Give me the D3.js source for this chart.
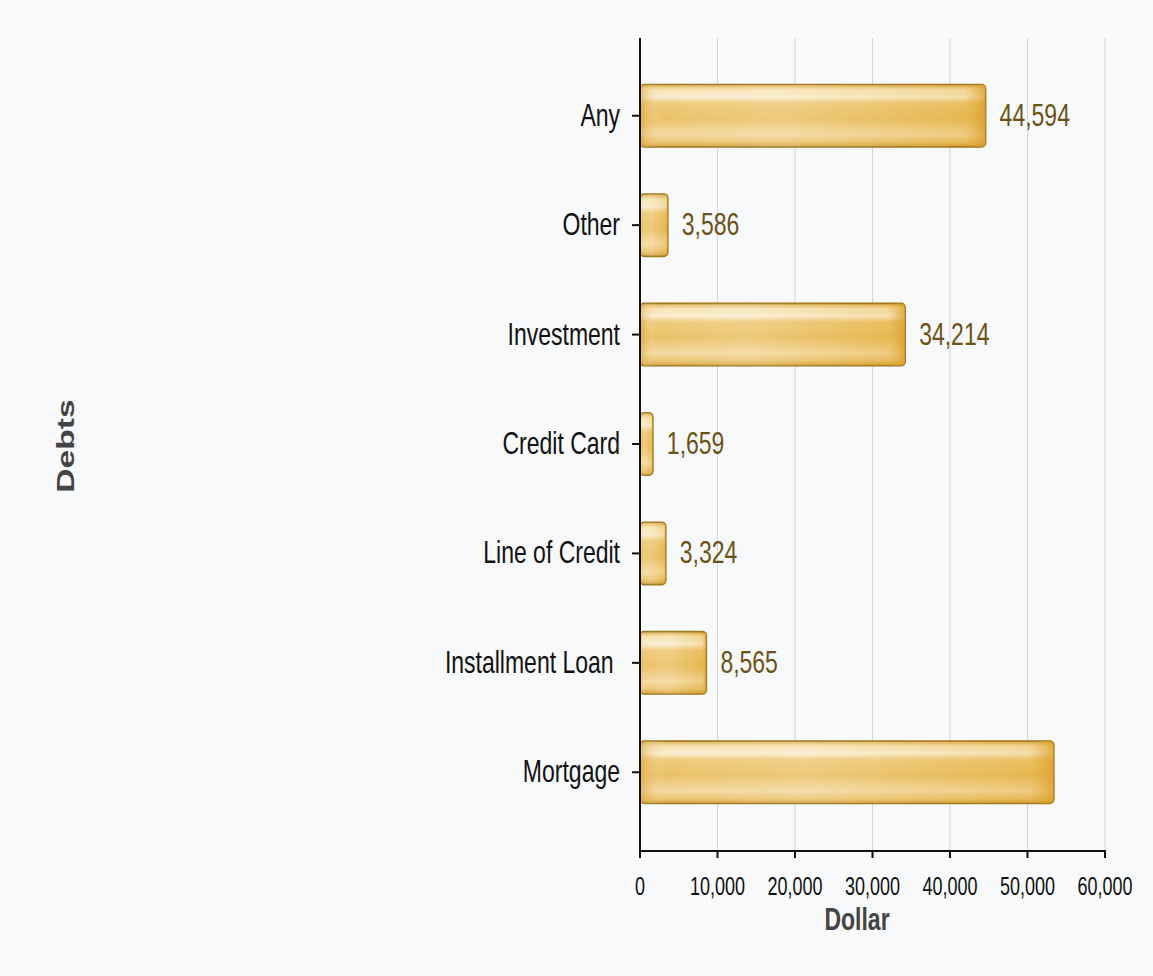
<!DOCTYPE html>
<html>
<head>
<meta charset="utf-8">
<script src="https://cdn.jsdelivr.net/npm/d3@7"></script>
<style>
  body { margin: 0; background: #f8f9fb; }
  text { font-family: "Liberation Sans", Arial, sans-serif; }
</style>
</head>
<body>
<div id="chart"></div>
<script>
var categories = ["Any", "Other", "Investment", "Credit Card", "Line of Credit", "Installment Loan ", "Mortgage"];
var values = [44594, 3586, 34214, 1659, 3324, 8565, 53400];
var valueLabels = ["44,594", "3,586", "34,214", "1,659", "3,324", "8,565", ""];
var xTicks = [0, 10000, 20000, 30000, 40000, 50000, 60000];

var w = 1153, h = 976;
var k = 1.4; // vertical stretch of the text

var svg = d3.select("#chart").append("svg")
  .attr("width", w).attr("height", h)
  .style("display", "block");

svg.append("rect").attr("width", w).attr("height", h).attr("fill", "#f8f9fb");

var x = d3.scaleLinear().domain([0, 60000]).range([640, 1105]);
var y = d3.scaleBand().domain(categories).range([61, 827]).paddingInner(0.43).paddingOuter(0.215);

// gradients
var defs = svg.append("defs");
var gv = defs.append("linearGradient").attr("id", "gv").attr("x1", 0).attr("y1", 0).attr("x2", 0).attr("y2", 1);
[[0, "#d9a53c"], [0.08, "#f5dfa8"], [0.2, "#f9ebcb"], [0.3, "#ecc56c"], [0.55, "#e8bb58"], [0.8, "#f2d596"], [0.92, "#e9bf62"], [1, "#cf9a2c"]]
  .forEach(function (s) { gv.append("stop").attr("offset", s[0]).attr("stop-color", s[1]); });
var gh = defs.append("linearGradient").attr("id", "gh").attr("x1", 0).attr("y1", 0).attr("x2", 1).attr("y2", 0);
[[0, "#d9a030", 0.55], [0.06, "#ffffff", 0.1], [0.4, "#ffffff", 0.2], [0.94, "#e0a838", 0.2], [1, "#d99e28", 0.8]]
  .forEach(function (s) { gh.append("stop").attr("offset", s[0]).attr("stop-color", s[1]).attr("stop-opacity", s[2]); });

// grid
svg.append("g").selectAll("line").data(xTicks.slice(1)).enter().append("line")
  .attr("x1", function (d) { return x(d); }).attr("x2", function (d) { return x(d); })
  .attr("y1", 38).attr("y2", 851)
  .attr("stroke", "#d4d4d4").attr("stroke-width", 1);

// bars
var bars = svg.append("g").selectAll("g").data(categories).enter().append("g");
bars.append("rect")
  .attr("x", x(0)).attr("y", function (d) { return y(d); })
  .attr("width", function (d, i) { return x(values[i]) - x(0); })
  .attr("height", y.bandwidth())
  .attr("rx", 4)
  .attr("fill", "url(#gv)")
  .attr("stroke", "#9c7416").attr("stroke-width", 1.6);
bars.append("rect")
  .attr("x", x(0)).attr("y", function (d) { return y(d); })
  .attr("width", function (d, i) { return x(values[i]) - x(0); })
  .attr("height", y.bandwidth())
  .attr("rx", 4)
  .attr("fill", "url(#gh)");

// value labels
bars.append("text")
  .attr("transform", function (d, i) {
    return "translate(" + (x(values[i]) + 14) + "," + (y(d) + y.bandwidth() / 2 + 10) + ") scale(1," + k + ")";
  })
  .attr("font-size", 23)
  .attr("fill", "#6b5216")
  .text(function (d, i) { return valueLabels[i]; });

// axes
svg.append("line").attr("x1", 640).attr("x2", 640).attr("y1", 38).attr("y2", 851)
  .attr("stroke", "#111").attr("stroke-width", 2);
svg.append("line").attr("x1", 639).attr("x2", 1106).attr("y1", 851).attr("y2", 851)
  .attr("stroke", "#111").attr("stroke-width", 2);

var xt = svg.append("g").selectAll("g").data(xTicks).enter().append("g");
xt.append("line")
  .attr("x1", function (d) { return x(d); }).attr("x2", function (d) { return x(d); })
  .attr("y1", 851).attr("y2", 858)
  .attr("stroke", "#111").attr("stroke-width", 2);
xt.append("text")
  .attr("transform", function (d) { return "translate(" + x(d) + ",895) scale(1," + k + ")"; })
  .attr("text-anchor", "middle")
  .attr("font-size", 18)
  .attr("fill", "#111")
  .text(d3.format(","));

var yt = svg.append("g").selectAll("g").data(categories).enter().append("g");
yt.append("line")
  .attr("x1", 632).attr("x2", 640)
  .attr("y1", function (d) { return y(d) + y.bandwidth() / 2; })
  .attr("y2", function (d) { return y(d) + y.bandwidth() / 2; })
  .attr("stroke", "#111").attr("stroke-width", 2);
yt.append("text")
  .attr("transform", function (d) { return "translate(620," + (y(d) + y.bandwidth() / 2 + 10) + ") scale(1," + k + ")"; })
  .attr("text-anchor", "end")
  .attr("font-size", 23)
  .attr("fill", "#111")
  .style("white-space", "pre")
  .text(function (d) { return d; });

// titles
svg.append("text")
  .attr("transform", "translate(857,930) scale(1," + k + ")")
  .attr("text-anchor", "middle")
  .attr("font-size", 23).attr("font-weight", "bold")
  .attr("fill", "#444")
  .text("Dollar");

svg.append("text")
  .attr("transform", "translate(74,446) scale(1," + k + ") rotate(-90)")
  .attr("text-anchor", "middle")
  .attr("font-size", 24).attr("font-weight", "bold")
  .attr("fill", "#444")
  .text("Debts");
</script>
</body>
</html>
